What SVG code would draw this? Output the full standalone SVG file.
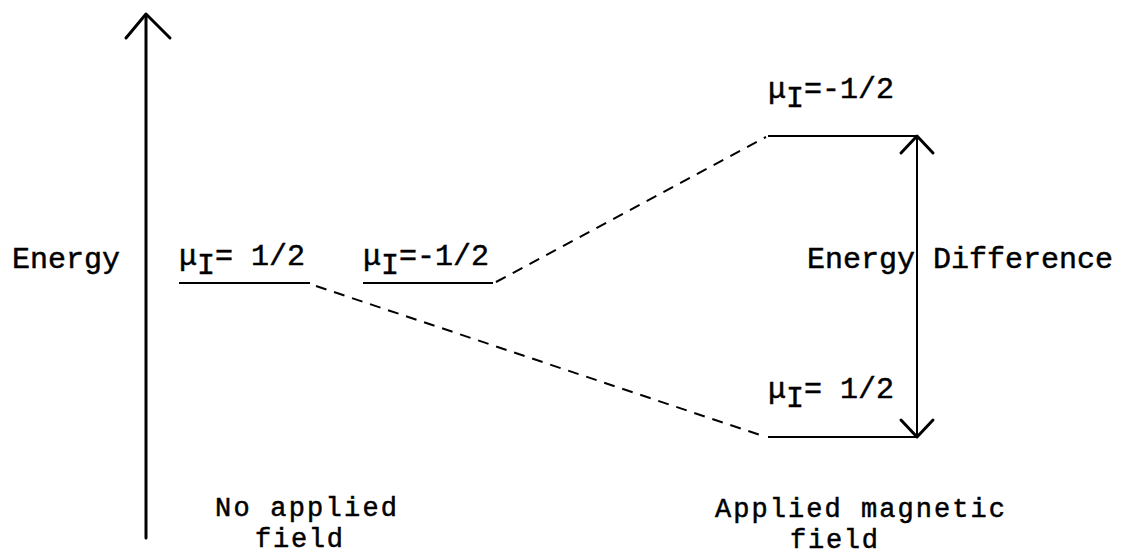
<svg xmlns="http://www.w3.org/2000/svg" width="1124" height="555" viewBox="0 0 1124 555">
<style>
text{font-family:"Liberation Mono","Courier New",monospace;font-size:30px;fill:#000;stroke:#000;stroke-width:0.5}
.cap{font-size:27px}
.lvl{stroke:#000;stroke-width:2;fill:none}
.dash{stroke:#000;stroke-width:2;stroke-dasharray:11 8;fill:none}
.ax{stroke:#000;stroke-width:3;fill:none;stroke-linecap:round;stroke-linejoin:round}
</style>
<rect width="1124" height="555" fill="#fff"/>
<g id="axis">
<line class="ax" x1="146" y1="15" x2="146" y2="538"/>
<polyline class="ax" points="126,38 146,14 170,38"/>
<text x="12" y="268">Energy</text>
</g>
<g id="level-left-1">
<line class="lvl" x1="179" y1="283" x2="310" y2="283"/>
<text x="179" y="265">μ<tspan dy="9">I</tspan><tspan dy="-9">= 1/2</tspan></text>
</g>
<g id="level-left-2">
<line class="lvl" x1="363" y1="283" x2="493" y2="283"/>
<text x="363" y="265">μ<tspan dy="9">I</tspan><tspan dy="-9">=-1/2</tspan></text>
</g>
<g id="level-right-upper">
<line class="lvl" x1="768" y1="136" x2="917" y2="136"/>
<text x="768" y="98">μ<tspan dy="9">I</tspan><tspan dy="-9">=-1/2</tspan></text>
</g>
<g id="level-right-lower">
<line class="lvl" x1="768" y1="437" x2="917" y2="437"/>
<text x="768" y="398">μ<tspan dy="9">I</tspan><tspan dy="-9">= 1/2</tspan></text>
</g>
<g id="energy-difference">
<line class="ax" x1="917" y1="137" x2="917" y2="436" style="stroke-width:2"/>
<polyline class="ax" points="901,153 917,136 933,153"/>
<polyline class="ax" points="901,420 917,437 933,420"/>
<text x="807" y="268">Energy Difference</text>
</g>
<g id="connectors">
<line class="dash" x1="316" y1="286" x2="766" y2="437"/>
<line class="dash" x1="496" y1="282" x2="766" y2="137"/>
</g>
<g id="captions">
<text class="cap" x="215" y="516" textLength="182" lengthAdjust="spacing">No applied</text>
<text class="cap" x="255" y="547" textLength="88" lengthAdjust="spacing">field</text>
<text class="cap" x="715" y="517" textLength="290" lengthAdjust="spacing">Applied magnetic</text>
<text class="cap" x="790" y="548" textLength="88" lengthAdjust="spacing">field</text>
</g>
</svg>
